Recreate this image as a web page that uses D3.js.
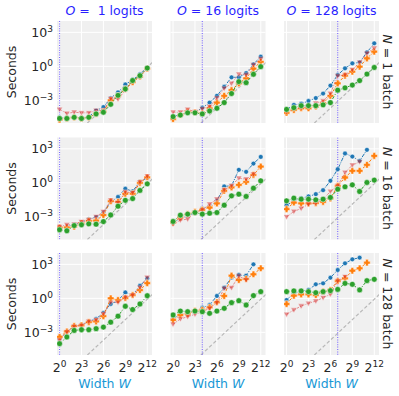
<!DOCTYPE html>
<html>
<head>
<meta charset="utf-8">
<title>timings grid</title>
<script src="https://cdn.jsdelivr.net/npm/d3@7"></script>
<style>
  body { margin: 0; background: #fff; }
  svg { font-family: "DejaVu Sans", sans-serif; }
</style>
</head>
<body>
<svg id="chart" width="399" height="396"></svg>
<script>
// data (log10 of seconds), panels row-major: row = N, col = O
var widths = [1, 2, 4, 8, 16, 32, 64, 128, 256, 512, 1024, 2048, 4096];
var logitsO = [1, 16, 128];
var batchN = [1, 16, 128];
var xTickExp = [0, 3, 6, 9, 12];
var yTickExp = [-3, 0, 3];

var logSecBlue = [
  [-4.55,-4.55,-4.45,-4.55,-4.45,-3.9,-3.6,-2.8,-2.3,-1.6,-1.2,-0.7,-0.1],
  [-4.4,-4.3,-4.0,-4.05,-3.65,-3.2,-2.6,-1.8,-0.97,-0.97,-0.6,0.18,0.85],
  [-3.8,-3.4,-3.3,-3.06,-2.8,-2.4,-1.7,-0.76,-0.18,0.26,0.35,1.24,2.03],
  [-4.0,-3.86,-3.7,-3.5,-3.2,-3.04,-2.64,-1.68,-1.25,-0.52,-0.75,0.12,0.41],
  [-3.5,-3.15,-2.91,-2.68,-2.26,-2.09,-1.59,-0.32,-0.26,1.15,0.97,1.7,2.29],
  [-1.97,-1.59,-1.35,-1.2,-1.0,-0.65,0.18,1.2,2.59,2.32,1.94,2.91,null],
  [-3.56,-2.97,-2.45,-2.33,-2.04,-1.81,-1.28,-0.5,-0.2,0.52,0.29,1.11,1.75],
  [-1.76,-1.41,-1.32,-1.18,-0.82,-0.59,0.21,0.94,1.82,2.06,2.0,3.0,null],
  [-0.15,0.44,0.65,0.74,1.24,1.32,1.82,2.5,3.09,3.44,3.59,null,null]
];
var logSecOrange = [
  [-4.7,-4.6,-4.5,-4.6,-4.5,-4.2,-4.0,-3.0,-2.6,-2.0,-1.4,-0.9,-0.2],
  [-4.65,-4.3,-4.0,-4.05,-4.15,-3.7,-3.2,-2.6,-2.1,-1.5,-1.06,-0.2,0.4],
  [-4.1,-3.85,-3.7,-3.7,-3.55,-3.26,-2.6,-1.5,-0.82,-0.47,-0.03,0.7,1.3],
  [-3.94,-3.94,-3.86,-3.57,-3.36,-3.33,-2.84,-1.62,-1.68,-0.96,-0.96,0.0,0.49],
  [-3.5,-3.06,-2.76,-2.56,-2.38,-2.18,-1.82,-0.7,-0.41,-0.18,0.09,0.7,1.44],
  [-2.32,-1.74,-1.82,-1.82,-1.79,-1.68,-1.38,-0.26,0.47,1.06,1.06,1.59,2.38],
  [-3.41,-2.92,-2.45,-2.39,-2.1,-2.04,-1.57,0.0,-0.15,0.03,0.29,0.73,1.34],
  [-1.91,-1.47,-1.38,-1.09,-1.03,-0.79,-0.35,0.21,2.0,1.62,1.71,2.12,2.65],
  [-0.5,0.24,0.35,0.35,0.29,0.59,0.74,1.53,1.76,2.44,2.65,3.15,null]
];
var logSecRed = [
  [-3.8,-4.15,-4.05,-4.1,-4.1,-3.9,-3.9,-2.85,-2.9,-2.1,-1.3,-0.9,-0.2],
  [-4.05,-4.05,-3.8,-4.0,-3.75,-3.55,-2.8,-1.95,-1.5,-0.7,-0.76,0.12,0.65],
  [-4.0,-3.76,-3.65,-3.56,-3.26,-3.06,-2.4,-0.85,-0.76,-0.3,0.35,1.15,1.6],
  [-3.86,-3.7,-3.65,-3.42,-3.28,-2.99,-2.55,-1.54,-1.74,-0.81,-0.87,0.06,0.58],
  [-3.65,-3.3,-3.2,-2.62,-2.38,-1.88,-1.44,-0.62,-0.26,0.41,0.32,0.76,null],
  [-3.0,-2.53,-2.26,-1.88,-1.79,-1.44,-0.76,-0.26,0.91,1.56,1.85,null,null],
  [-3.7,-2.97,-2.48,-2.39,-2.04,-1.9,-1.37,-0.35,-0.35,0.09,0.29,0.96,1.84],
  [-2.29,-1.82,-1.62,-1.41,-1.18,-0.88,-0.38,0.88,0.94,1.97,1.62,null,null],
  [-1.41,-1.03,-0.68,-0.44,-0.24,0.06,0.35,1.53,1.91,null,null,null,null]
];
var logSecGreen = [
  [-4.6,-4.6,-4.5,-4.6,-4.5,-4.2,-4.05,-3.35,-2.56,-2.0,-1.25,-0.82,-0.15],
  [-4.44,-4.3,-4.1,-4.1,-4.2,-3.94,-3.7,-3.2,-2.4,-1.35,-1.44,-0.7,-0.03],
  [-3.8,-3.65,-3.47,-3.47,-3.47,-3.4,-3.2,-2.1,-1.9,-1.65,-1.26,-0.68,-0.1],
  [-4.14,-4.23,-3.77,-3.7,-3.62,-3.65,-3.42,-2.84,-2.06,-1.54,-1.39,-0.67,-0.09],
  [-3.41,-2.85,-2.76,-2.62,-2.76,-2.68,-2.62,-1.97,-1.15,-1.0,-1.2,-0.47,0.18],
  [-1.59,-1.35,-1.44,-1.44,-1.5,-1.44,-1.29,-0.56,-0.35,-0.18,-0.76,0.03,0.24],
  [-4.0,-3.41,-2.83,-2.77,-2.77,-2.68,-2.54,-2.1,-1.57,-0.7,-0.99,-0.5,0.23],
  [-1.47,-1.12,-1.18,-1.12,-1.18,-1.32,-1.12,-0.88,-0.38,-0.21,-0.59,0.24,0.59],
  [0.59,0.65,0.65,0.59,0.5,0.59,0.68,0.79,1.32,1.24,0.74,1.56,1.68]
];
// grey dashed reference line end points
var refWidth = [14, 6650];
var refSeconds = [1e-5, 2.2];

var svg = d3.select("#chart");
var pw = 95, ph = 102;
var colLeft = [57, 170.5, 284];
var rowTop = [21, 137.5, 253];
var fs = 12.5, fsSup = 9;

var x = d3.scaleLog().base(2).domain([Math.pow(2, -0.35), Math.pow(2, 12.65)]).range([0, pw]);
var y = d3.scaleLog().domain([1e-5, 1e4]).range([ph, 0]);

var series = [
  { data: logSecBlue, color: "#1f77b4", dash: "4,1.2,1,1.2", op: 1, marker: "circle", size: 2.4 },
  { data: logSecOrange, color: "#ff7f0e", dash: "3,1.5", op: 1, marker: "plus", size: 3.3 },
  { data: logSecRed, color: "#d62728", dash: "2.5,1.2,1,1.2", op: 0.5, marker: "tri", size: 3.1 },
  { data: logSecGreen, color: "#2ca02c", dash: "3,1.5,1,1.5", op: 1, marker: "circle", size: 2.9 }
];

function markerPath(kind, s) {
  if (kind === "tri") return "M" + (-s) + "," + (-s * 0.7) + "L" + s + "," + (-s * 0.7) + "L0," + (s * 1.0) + "Z";
  if (kind === "plus") {
    var a = s, b = s * 0.42;
    return "M" + (-b) + "," + (-a) + "H" + b + "V" + (-b) + "H" + a + "V" + b + "H" + b + "V" + a +
      "H" + (-b) + "V" + b + "H" + (-a) + "V" + (-b) + "H" + (-b) + "Z";
  }
  return null;
}

var defs = svg.append("defs");

batchN.forEach(function (n, r) {
  logitsO.forEach(function (o, c) {
    var idx = r * 3 + c;
    var g = svg.append("g").attr("transform", "translate(" + colLeft[c] + "," + rowTop[r] + ")");
    defs.append("clipPath").attr("id", "clip" + idx)
      .append("rect").attr("width", pw).attr("height", ph);

    g.append("rect").attr("width", pw).attr("height", ph).attr("fill", "#f0f0f0");
    g.selectAll("line.gx").data(xTickExp).enter().append("line")
      .attr("x1", function (d) { return x(Math.pow(2, d)); })
      .attr("x2", function (d) { return x(Math.pow(2, d)); })
      .attr("y1", 0).attr("y2", ph)
      .attr("stroke", "#fff").attr("stroke-width", 1);
    g.selectAll("line.gy").data(yTickExp).enter().append("line")
      .attr("y1", function (d) { return y(Math.pow(10, d)); })
      .attr("y2", function (d) { return y(Math.pow(10, d)); })
      .attr("x1", 0).attr("x2", pw)
      .attr("stroke", "#fff").attr("stroke-width", 1);

    var pg = g.append("g").attr("clip-path", "url(#clip" + idx + ")");

    pg.append("line")
      .attr("x1", x(refWidth[0])).attr("y1", y(refSeconds[0]))
      .attr("x2", x(refWidth[1])).attr("y2", y(refSeconds[1]))
      .attr("stroke", "#b8b8b8").attr("stroke-width", 1.2).attr("stroke-dasharray", "3.5,2.2");

    pg.append("line")
      .attr("x1", x(o)).attr("x2", x(o)).attr("y1", 0).attr("y2", ph)
      .attr("stroke", "#7a66ff").attr("stroke-width", 1.1).attr("stroke-dasharray", "1,1.4");

    series.forEach(function (s) {
      var pts = [];
      s.data[idx].forEach(function (v, k) {
        if (v !== null) pts.push([widths[k], Math.pow(10, v)]);
      });
      var line = d3.line().x(function (d) { return x(d[0]); }).y(function (d) { return y(d[1]); });
      pg.append("path").attr("d", line(pts))
        .attr("fill", "none").attr("stroke", s.color).attr("stroke-width", 1)
        .attr("stroke-dasharray", s.dash).attr("opacity", s.op);
      var mk = pg.selectAll(null).data(pts).enter();
      if (s.marker === "circle") {
        mk.append("circle")
          .attr("cx", function (d) { return x(d[0]); })
          .attr("cy", function (d) { return y(d[1]); })
          .attr("r", s.size).attr("fill", s.color).attr("opacity", s.op)
          .attr("stroke", "#fff").attr("stroke-width", 0.5);
      } else {
        mk.append("path")
          .attr("d", markerPath(s.marker, s.size))
          .attr("transform", function (d) { return "translate(" + x(d[0]) + "," + y(d[1]) + ")"; })
          .attr("fill", s.color).attr("opacity", s.op)
          .attr("stroke", "#fff").attr("stroke-width", 0.5);
      }
    });

    // y tick labels on first column
    if (c === 0) {
      yTickExp.forEach(function (e) {
        var t = g.append("text").attr("x", -4).attr("y", y(Math.pow(10, e)) + 4.5)
          .attr("text-anchor", "end").attr("font-size", fs).attr("fill", "#262626");
        t.append("tspan").text("10");
        t.append("tspan").attr("dy", -5).attr("font-size", fsSup).text(String(e).replace("-", "\u2212"));
      });
      svg.append("text")
        .attr("transform", "translate(16," + (rowTop[r] + ph / 2) + ") rotate(-90)")
        .attr("text-anchor", "middle").attr("font-size", fs).attr("fill", "#262626")
        .text("Seconds");
    }
    // x tick labels on last row
    if (r === 2) {
      xTickExp.forEach(function (e) {
        var t = g.append("text").attr("x", x(Math.pow(2, e))).attr("y", ph + 17)
          .attr("text-anchor", "middle").attr("font-size", fs).attr("fill", "#262626");
        t.append("tspan").text("2");
        t.append("tspan").attr("dy", -5).attr("font-size", fsSup).text(e);
      });
      var xl = svg.append("text").attr("x", colLeft[c] + pw / 2).attr("y", 388)
        .attr("text-anchor", "middle").attr("font-size", fs).attr("fill", "#1898d6");
      xl.append("tspan").text("Width ");
      xl.append("tspan").attr("font-style", "italic").text("W");
    }
    // column titles
    if (r === 0) {
      var tt = svg.append("text").attr("x", colLeft[c] + pw / 2).attr("y", 15)
        .attr("text-anchor", "middle").attr("font-size", fs).attr("fill", "#2a1fff")
        .style("white-space", "pre");
      tt.append("tspan").attr("font-style", "italic").text("O");
      tt.append("tspan").text(" = " + (o < 10 ? " " : "") + o + " logits");
    }
    // row labels
    if (c === 2) {
      var rt = svg.append("text")
        .attr("transform", "translate(" + (colLeft[c] + pw + 4) + "," + (rowTop[r] + ph / 2) + ") rotate(90)")
        .attr("text-anchor", "middle").attr("font-size", fs).attr("fill", "#262626")
        .style("white-space", "pre");
      rt.append("tspan").attr("font-style", "italic").text("N");
      rt.append("tspan").text(" = " + n + " batch");
    }
  });
});
</script>
</body>
</html>
